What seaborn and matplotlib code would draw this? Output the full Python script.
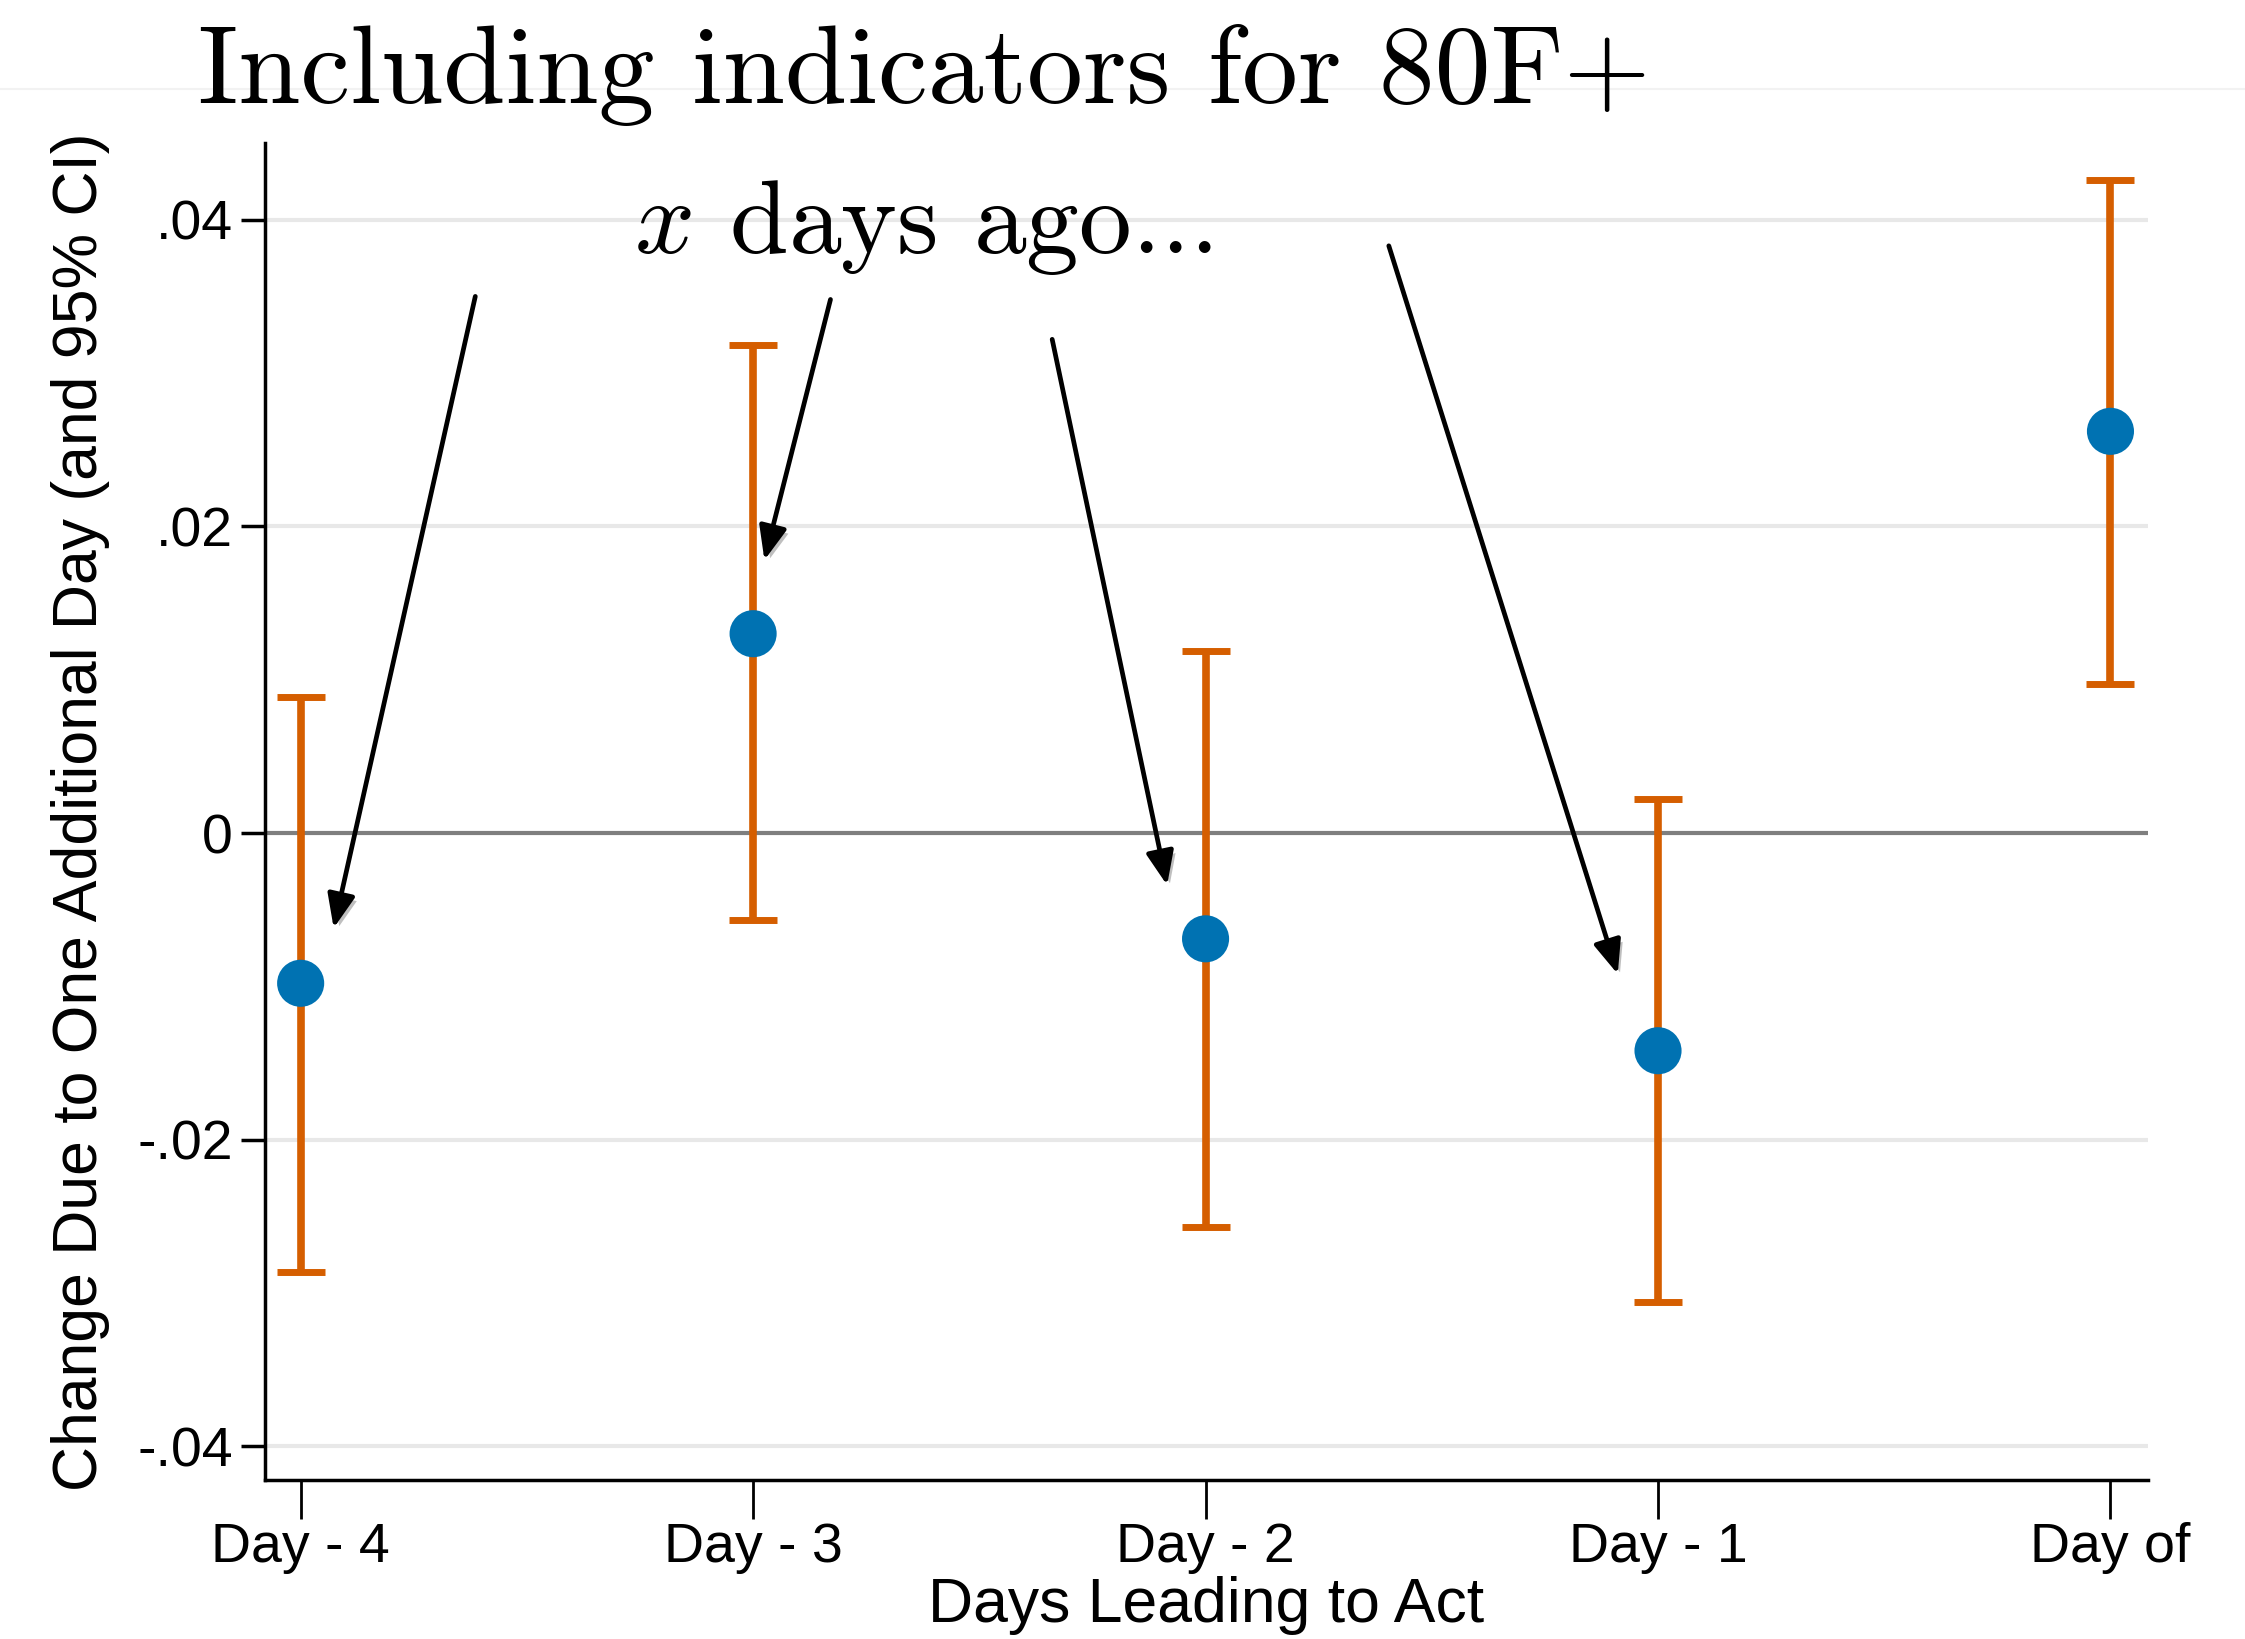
import matplotlib
matplotlib.use("Agg")
import matplotlib.pyplot as plt
import matplotlib.patheffects as pe
from matplotlib.lines import Line2D
import seaborn as sns
import pandas as pd

# Estimates and 95% confidence bounds for each lag
day_labels = ["Day - 4", "Day - 3", "Day - 2", "Day - 1", "Day of"]
estimates = [-0.0098, 0.0130, -0.0069, -0.0142, 0.0262]
ci_lower = [-0.0286, -0.0057, -0.0257, -0.0306, 0.0097]
ci_upper = [0.0089, 0.0318, 0.0119, 0.0022, 0.0426]

y_ticks = [-0.04, -0.02, 0.0, 0.02, 0.04]
y_tick_labels = ["-.04", "-.02", "0", ".02", ".04"]

# Annotation arrows: (text-side start, point-side end) in data units
arrow_starts = [(0.386, 0.0350), (1.171, 0.0348), (1.661, 0.0322), (2.405, 0.0383)]
arrow_ends = [(0.073, -0.0062), (1.025, 0.0178), (1.915, -0.0034), (2.911, -0.0092)]

df = pd.DataFrame({
    "pos": range(len(day_labels)),
    "label": day_labels,
    "est": estimates,
    "lo": ci_lower,
    "hi": ci_upper,
})

sns.set_theme(style="white")
plt.rcParams["font.family"] = ["Liberation Sans", "DejaVu Sans"]
plt.rcParams["mathtext.fontset"] = "cm"
plt.rcParams["text.color"] = "black"
plt.rcParams["axes.labelcolor"] = "black"
plt.rcParams["xtick.color"] = "black"
plt.rcParams["ytick.color"] = "black"

BLUE = "#0072b2"
ORANGE = "#d55e00"

fig = plt.figure(figsize=(22.45, 16.39), dpi=100)
ax = fig.add_axes([0.118, 0.097, 0.8386, 0.8157])

# horizontal grid + zero reference line
for yv in y_ticks:
    if yv == 0:
        ax.axhline(yv, color="#7f7f7f", lw=3.0, zorder=1)
    else:
        ax.axhline(yv, color="#e8e8e8", lw=3.0, zorder=0)

ax.errorbar(df["pos"], df["est"],
            yerr=[df["est"] - df["lo"], df["hi"] - df["est"]],
            fmt="none", ecolor=ORANGE, elinewidth=5.5, capsize=17, capthick=5,
            zorder=2)

sns.scatterplot(data=df, x="pos", y="est", ax=ax, color=BLUE, s=1150,
                edgecolor="none", zorder=3, legend=False)

ax.set_xlim(-0.079, 4.082)
ax.set_ylim(-0.0422, 0.0450)
ax.set_xticks(df["pos"])
ax.set_xticklabels(day_labels)
ax.set_yticks(y_ticks)
ax.set_yticklabels(y_tick_labels)

ax.tick_params(axis="y", direction="out", length=17, width=2.5, labelsize=40,
               pad=6, left=True, color="black", labelcolor="black")
ax.tick_params(axis="x", direction="out", length=28, width=2.0, labelsize=40,
               pad=2, bottom=True, color="black", labelcolor="black")
for s in ["top", "right"]:
    ax.spines[s].set_visible(False)
for s in ["left", "bottom"]:
    ax.spines[s].set_color("black")
    ax.spines[s].set_linewidth(2.5)

ax.set_xlabel("Days Leading to Act", fontsize=45, labelpad=2, color="black")
ax.set_ylabel("Change Due to One Additional Day (and 95% CI)", fontsize=45,
              labelpad=20, color="black")

# Arrows pointing from the caption to each lagged estimate
for (x0, y0), (x1, y1) in zip(arrow_starts, arrow_ends):
    ax.annotate("", xy=(x1, y1), xytext=(x0, y0),
                arrowprops=dict(arrowstyle="-|>,head_length=1.7,head_width=0.7",
                                color="black", lw=3.4, shrinkA=0, shrinkB=0,
                                path_effects=[pe.SimplePatchShadow(offset=(3, -3), alpha=0.25),
                                              pe.Normal()]),
                zorder=4)

ax.text(0.737, 0.0378, r"$x$ days ago...", fontsize=76, family="cmr10",
        va="baseline", ha="left", zorder=5, color="black")

fig.text(0.088, 0.937, "Including indicators for 80F+", fontsize=80.5,
         family="cmr10", va="baseline", ha="left", color="black")

# faint rule under the heading
fig.add_artist(Line2D([0, 1], [0.946, 0.946], transform=fig.transFigure,
                      color="#f2f2f2", lw=1.5, zorder=-1))

fig.savefig("out.png", dpi=100, facecolor="white")
